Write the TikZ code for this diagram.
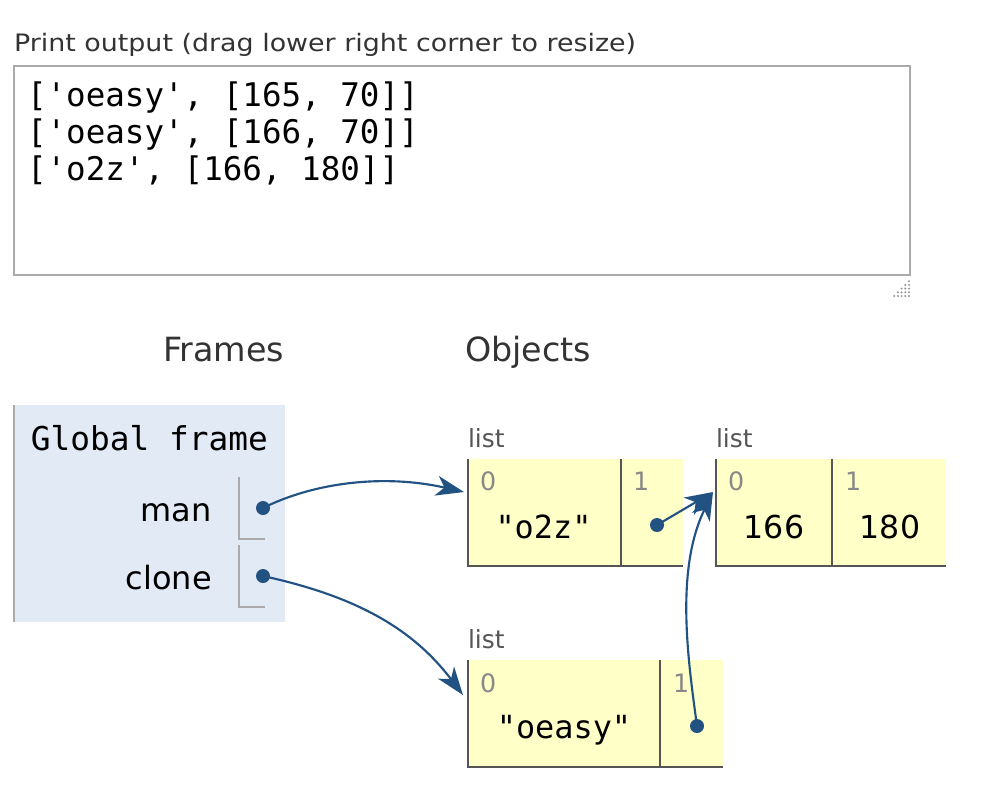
\documentclass[tikz,border=0pt]{standalone}
\usepackage{fontspec}
\setmainfont{DejaVu Sans}
\setmonofont{DejaVu Sans Mono}
\newfontfamily\widesans[FakeStretch=1.12]{DejaVu Sans}
\usetikzlibrary{arrows.meta}

\definecolor{ptrblue}{RGB}{33,82,130}
\definecolor{framebg}{RGB}{226,234,245}
\definecolor{heapbg}{RGB}{255,255,200}
\definecolor{slotgray}{RGB}{170,170,170}
\definecolor{celledge}{RGB}{85,85,85}
\definecolor{idxgray}{RGB}{136,136,136}
\definecolor{headgray}{RGB}{51,51,51}
\definecolor{typegray}{RGB}{85,85,85}

\tikzset{
  lbl/.style={inner sep=0pt, outer sep=0pt, anchor=base west},
  printfont/.style={font=\widesans\fontsize{18}{21}\selectfont, text=headgray},
  outfont/.style={font=\ttfamily\fontsize{24.4}{28}\selectfont, text=black},
  framefont/.style={font=\ttfamily\fontsize{24.6}{28}\selectfont, text=black},
  headfont/.style={font=\fontsize{25}{29}\selectfont, text=headgray},
  varfont/.style={font=\fontsize{24}{28}\selectfont, text=black},
  typefont/.style={font=\fontsize{18.7}{22}\selectfont, text=typegray},
  idxfont/.style={font=\fontsize{19}{22}\selectfont, text=idxgray},
  strval/.style={font=\ttfamily\fontsize{23.9}{28}\selectfont, text=black, inner sep=0pt, anchor=base},
  numval/.style={font=\fontsize{23.7}{28}\selectfont, text=black, inner sep=0pt, anchor=base},
  cellfill/.style={fill=heapbg, draw=none},
  cellline/.style={draw=celledge, line width=1.5pt},
  slotline/.style={draw=slotgray, line width=1.1pt},
  ptrdot/.style={circle, fill=ptrblue, inner sep=0pt, minimum size=10.5pt},
  ptr/.style={draw=ptrblue, line width=1.6pt,
    -{Stealth[length=21pt, width=15pt, inset=6pt]}},
}

\begin{document}
\begin{tikzpicture}[x=0.75pt, y=-0.75pt]
  \useasboundingbox (0,0) rectangle (1002,808);
  \fill[white] (0,0) rectangle (1002,808);

  % print output panel
  \node[lbl, printfont] (printhead) at (14,51) {Print output (drag lower right corner to resize)};
  \draw[draw=slotgray, line width=1.5pt] (14,66) rectangle (910,275);
  \node[lbl, outfont] (out1) at (27,106) {['oeasy', [165, 70]]};
  \node[lbl, outfont] (out2) at (27,143) {['oeasy', [166, 70]]};
  \node[lbl, outfont] (out3) at (27,180) {['o2z', [166, 180]]};

  % resize grip
  \foreach \a in {0,...,4} {
    \foreach \b in {0,...,4} {
      \pgfmathtruncatemacro{\s}{\a+\b}
      \ifnum\s<5
        \fill[gray!85] (909-3.7*\a,296-3.7*\b) circle (1.1);
      \fi
    }
  }

  % column headings
  \node[lbl, headfont] (frameshead) at (163,361) {Frames};
  \node[lbl, headfont] (objectshead) at (465,361) {Objects};

  % global frame
  \fill[framebg] (14,405) rectangle (285,622);
  \draw[draw=slotgray, line width=1.5pt] (14,405) -- (14,622);
  \node[lbl, framefont] (gframe) at (31,450) {Global frame};
  \node[inner sep=0pt, anchor=base east, varfont] (manlbl) at (212,521) {man};
  \node[inner sep=0pt, anchor=base east, varfont] (clonelbl) at (212,589) {clone};
  \draw[slotline] (239,477) -- (239,539) -- (265,539);
  \draw[slotline] (239,545) -- (239,607) -- (265,607);
  \node[ptrdot] (mandot) at (263,508) {};
  \node[ptrdot] (clonedot) at (263,576) {};

  % list ["o2z", ->]
  \node[lbl, typefont] (typeA) at (468,447) {list};
  \fill[cellfill] (468,459) rectangle (683,566);
  \draw[cellline] (468,459) -- (468,566) -- (683,566);
  \draw[cellline] (620.5,459) -- (620.5,566);
  \node[lbl, idxfont] (idxA0) at (480,490) {0};
  \node[lbl, idxfont] (idxA1) at (633,490) {1};
  \node[strval] (valA0) at (543.5,538) {"o2z"};
  \node[ptrdot] (dotA1) at (657,525) {};

  % list [166, 180]
  \node[lbl, typefont] (typeB) at (716,447) {list};
  \fill[cellfill] (716,459) rectangle (946,566);
  \draw[cellline] (716,459) -- (716,566) -- (946,566);
  \draw[cellline] (832,459) -- (832,566);
  \node[lbl, idxfont] (idxB0) at (728,490) {0};
  \node[lbl, idxfont] (idxB1) at (845,490) {1};
  \node[numval] (valB0) at (774,538) {166};
  \node[numval] (valB1) at (890,538) {180};

  % list ["oeasy", ->]
  \node[lbl, typefont] (typeC) at (468,648) {list};
  \fill[cellfill] (468,660) rectangle (723,767);
  \draw[cellline] (468,660) -- (468,767) -- (723,767);
  \draw[cellline] (660,660) -- (660,767);
  \node[lbl, idxfont] (idxC0) at (480,692) {0};
  \node[lbl, idxfont] (idxC1) at (673,692) {1};
  \node[strval] (valC0) at (564,738) {"oeasy"};
  \node[ptrdot] (dotC1) at (697,726) {};

  % arrow targets on the left edges of the lists
  \coordinate (inA) at (464,492);
  \coordinate (inB) at (713,492);
  \coordinate (inC) at (463,695);

  % references
  \draw[ptr] (mandot.center) .. controls (315,482) and (385,474) .. (inA);
  \draw[ptr] (clonedot.center) .. controls (350,595) and (410,625) .. (inC);
  \draw[ptr] (dotA1.center) -- (inB);
  \draw[ptr] (dotC1.center) .. controls (688,660) and (675,570) .. (inB);
\end{tikzpicture}
\end{document}
